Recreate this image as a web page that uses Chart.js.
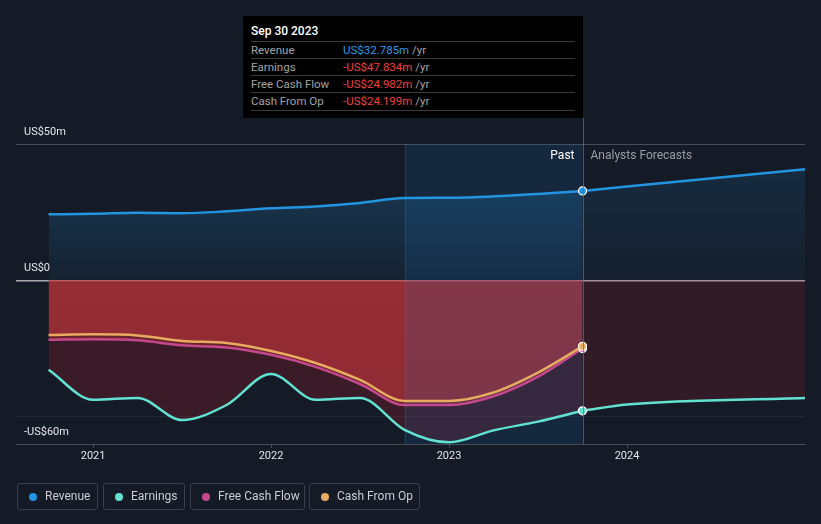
<!DOCTYPE html>
<html><head><meta charset="utf-8">
<script src="https://cdn.jsdelivr.net/npm/chart.js@4/dist/chart.umd.min.js"></script>
<style>
html,body{margin:0;padding:0;background:#151b26;width:821px;height:524px;overflow:hidden;font-family:Roboto,"Noto Sans",sans-serif;}
#wrap{position:relative;width:821px;height:524px;}
#c{position:absolute;left:0;top:0;}
#tip{position:absolute;left:243px;top:16px;width:340px;height:102px;background:#000;}
#tip .t{position:absolute;left:8px;top:8px;color:#fff;font-size:12px;font-weight:500;}
.row{position:absolute;left:8px;width:324px;height:17px;border-top:1px solid #3a3a3a;font-size:11.5px;line-height:17px;color:#a3a3a3;white-space:nowrap;}
.row .v{position:absolute;left:92px;top:0;}
.row .v b{font-weight:400;}
.last{border-bottom:1px solid #3a3a3a;}
.leg{position:absolute;top:483px;height:27px;border:1px solid #3a404b;border-radius:3px;box-sizing:border-box;color:#c9ccd1;font-size:12px;line-height:25px;}
.leg i{position:absolute;left:11px;top:9px;width:8px;height:8px;border-radius:50%;}
.leg span{position:absolute;left:27px;top:0;}
</style></head>
<body><div id="wrap">
<canvas id="c" width="821" height="524"></canvas>
<div id="tip">
  <div class="t">Sep 30 2023</div>
  <div class="row" style="top:25px">Revenue<span class="v"><b style="color:#2d9ae8">US$32.785m</b> /yr</span></div>
  <div class="row" style="top:42px">Earnings<span class="v"><b style="color:#ee433e">-US$47.834m</b> /yr</span></div>
  <div class="row" style="top:59px">Free Cash Flow<span class="v"><b style="color:#ee433e">-US$24.982m</b> /yr</span></div>
  <div class="row last" style="top:76px">Cash From Op<span class="v"><b style="color:#ee433e">-US$24.199m</b> /yr</span></div>
</div>
<div class="leg" style="left:17px;width:81px"><i style="background:#2394df"></i><span>Revenue</span></div>
<div class="leg" style="left:103px;width:82px"><i style="background:#62e3d2"></i><span>Earnings</span></div>
<div class="leg" style="left:190px;width:115px"><i style="background:#c4498c"></i><span>Free Cash Flow</span></div>
<div class="leg" style="left:309px;width:111px"><i style="background:#e9ab5f"></i><span>Cash From Op</span></div>
</div>
<script>
// ---- data (US$ millions) ----
const pastDates = [2020.75, 2021.0, 2021.25, 2021.5, 2021.75, 2022.0, 2022.25, 2022.5, 2022.75, 2023.0, 2023.25, 2023.5, 2023.75];
const revenuePast = [24.2, 24.4, 24.8, 24.6, 25.3, 26.4, 27.1, 28.4, 30.2, 30.3, 30.8, 31.7, 32.785];
const earningsPast = [-32.8, -43.8, -43.1, -51.2, -45.7, -34.3, -43.8, -43.1, -54.8, -59.4, -55.0, -51.8, -47.834];
const fcfPast = [-21.8, -21.6, -22.0, -23.8, -24.6, -27.3, -31.7, -38.0, -45.7, -45.7, -42.5, -35.3, -24.982];
const cfoPast = [-20.0, -19.8, -20.2, -22.2, -23.0, -25.9, -30.3, -36.5, -44.2, -44.2, -41.1, -33.8, -24.199];
const forecastDates = [2023.75, 2024.0, 2025.0];
const revenueForecast = [32.785, 34.4, 40.7];
const earningsForecast = [-47.834, -45.5, -43.1];
const xTicks = [2021, 2022, 2023, 2024];
const yTicks = [-60, -50, 0, 50];
const yTickLabels = {"50": "US$50m", "0": "US$0", "-60": "-US$60m", "-50": ""};
const pastStart = 2022.75, nowDate = 2023.75;

const pts = (xs, ys) => xs.map((x, i) => ({x, y: ys[i]}));
const lastDot = c => c.dataIndex === c.dataset.data.length - 1 ? 4 : 0;

function vGrad(chart, y0v, y1v, c0, c1) {
  const {ctx, chartArea, scales} = chart;
  if (!chartArea) return c0;
  const g = ctx.createLinearGradient(0, scales.y.getPixelForValue(y0v), 0, scales.y.getPixelForValue(y1v));
  g.addColorStop(0, c0); g.addColorStop(1, c1);
  return g;
}

const common = {borderWidth: 2.5, cubicInterpolationMode: 'monotone', pointBorderColor: '#ffffff', pointBorderWidth: 1.3, pointHoverRadius: 0};

const overlay = {
  id: 'overlay',
  beforeDatasetsDraw(chart) {
    const {ctx, chartArea: a, scales: {x}} = chart;
    const x0 = x.getPixelForValue(pastStart), x1 = x.getPixelForValue(nowDate);
    ctx.save();
    ctx.fillStyle = 'rgba(30,120,200,0.15)';
    ctx.fillRect(x0, a.top, x1 - x0, a.bottom - a.top);
    ctx.strokeStyle = 'rgba(60,130,190,0.22)'; ctx.lineWidth = 1;
    ctx.beginPath(); ctx.moveTo(Math.round(x0) + 0.5, a.top); ctx.lineTo(Math.round(x0) + 0.5, a.bottom); ctx.stroke();
    ctx.restore();
  },
  afterDatasetsDraw(chart) {
    const {ctx, chartArea: a, scales: {x}} = chart;
    const x1 = x.getPixelForValue(nowDate);
    ctx.save();
    ctx.strokeStyle = 'rgba(60,120,170,0.75)'; ctx.lineWidth = 1;
    ctx.beginPath(); ctx.moveTo(Math.round(x1) + 0.5, 118); ctx.lineTo(Math.round(x1) + 0.5, a.bottom); ctx.stroke();
    ctx.font = '12px Roboto, "Noto Sans", sans-serif';
    ctx.textBaseline = 'middle';
    ctx.textAlign = 'right'; ctx.fillStyle = '#ffffff';
    ctx.fillText('Past', x1 - 8, a.top + 12);
    ctx.textAlign = 'left'; ctx.fillStyle = '#9a9da3';
    ctx.fillText('Analysts Forecasts', x1 + 8, a.top + 12);
    ctx.restore();
  }
};

new Chart(document.getElementById('c'), {
  type: 'line',
  data: {
    datasets: [
      Object.assign({}, common, {label: 'Cash From Op', data: pts(pastDates, cfoPast), borderColor: '#e9ab5f', pointBackgroundColor: '#e9ab5f', pointRadius: lastDot, order: 1,
        fill: 'origin', backgroundColor: c => vGrad(c.chart, 0, -45, 'rgba(205,55,60,0.45)', 'rgba(205,55,60,0.36)')}),
      Object.assign({}, common, {label: 'Free Cash Flow', data: pts(pastDates, fcfPast), borderColor: '#c4498c', pointBackgroundColor: '#c4498c', pointRadius: lastDot, order: 2,
        fill: 'origin', backgroundColor: 'rgba(205,55,60,0.33)'}),
      Object.assign({}, common, {label: 'Revenue', data: pts(pastDates, revenuePast), borderColor: '#2394df', pointBackgroundColor: '#2394df', pointRadius: lastDot, order: 3,
        fill: 'origin', backgroundColor: c => vGrad(c.chart, 32, 0, 'rgba(35,148,223,0.21)', 'rgba(35,148,223,0.06)')}),
      Object.assign({}, common, {label: 'Revenue forecast', data: pts(forecastDates, revenueForecast), borderColor: '#2394df', pointRadius: 0, order: 3,
        fill: 'origin', backgroundColor: c => vGrad(c.chart, 38, 0, 'rgba(35,148,223,0.13)', 'rgba(35,148,223,0.04)')}),
      Object.assign({}, common, {label: 'Earnings', data: pts(pastDates, earningsPast), borderColor: '#62e3d2', pointBackgroundColor: '#62e3d2', pointRadius: lastDot, order: 4,
        fill: 'origin', backgroundColor: 'rgba(150,30,45,0.30)'}),
      Object.assign({}, common, {label: 'Earnings forecast', data: pts(forecastDates, earningsForecast), borderColor: '#62e3d2', pointRadius: 0, order: 4,
        fill: 'origin', backgroundColor: 'rgba(150,30,45,0.21)'})
    ]
  },
  options: {
    responsive: false, animation: false, events: [], devicePixelRatio: 1,
    layout: {padding: {left: 16, right: 16, top: 144, bottom: 56}},
    plugins: {legend: {display: false}, tooltip: {enabled: false}, filler: {drawTime: 'beforeDatasetsDraw'}},
    scales: {
      x: {
        type: 'linear', min: 2020.567, max: 2025.0,
        afterBuildTicks: s => { s.ticks = xTicks.map(v => ({value: v})); },
        afterFit: s => { s.height = 24; },
        ticks: {color: '#e2e4e8', font: {size: 11, family: 'Roboto'}, padding: 2, callback: v => String(v), autoSkip: false, maxRotation: 0},
        grid: {display: true, drawOnChartArea: false, drawTicks: true, tickLength: 4, color: '#474d57'},
        border: {display: true, color: '#474d57', width: 1}
      },
      y: {
        min: -60, max: 50,
        afterBuildTicks: s => { s.ticks = yTicks.map(v => ({value: v})); },
        afterFit: s => { s.width = 0; },
        ticks: {mirror: true, padding: 8, labelOffset: -12, color: '#e2e4e8', font: {size: 11, family: 'Roboto'},
          callback: v => yTickLabels[String(v)]},
        grid: {drawTicks: false,
          color: c => c.tick.value === 0 ? '#a7a9ad' : (c.tick.value === -50 ? '#232935' : '#474d57'),
          lineWidth: c => c.tick.value === 0 ? 1.5 : 1},
        border: {display: false}
      }
    }
  },
  plugins: [overlay]
});
</script>
</body></html>
